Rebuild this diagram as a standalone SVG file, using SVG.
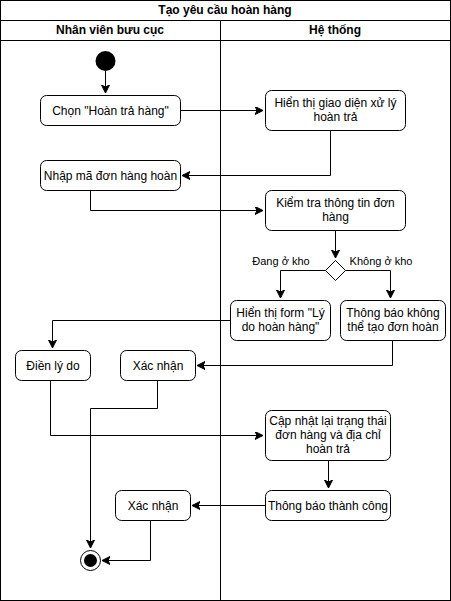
<svg xmlns="http://www.w3.org/2000/svg" width="451" height="601" viewBox="0 0 451 601">
<style>
text{font-family:"Liberation Sans",Arial,sans-serif;font-size:12px;fill:#000;text-anchor:middle}
.b{font-weight:bold}
.node{fill:#fff;stroke:#000;stroke-width:1}
.edge{fill:none;stroke:#000;stroke-width:1}
.frame{fill:#fff;stroke:#000;stroke-width:1}
</style>
<defs>
<marker id="arr" markerUnits="userSpaceOnUse" markerWidth="10" markerHeight="10" refX="8" refY="4" orient="auto">
<path d="M0,0 L8,4 L0,8 L2,4 Z" fill="#000" stroke="#000" stroke-width="1"/>
</marker>
</defs>
<rect x="0" y="0" width="451" height="601" fill="#fff"/>
<g id="pool">
<rect class="frame" x="0.5" y="0.5" width="450" height="600"/>
<line class="edge" x1="0.5" y1="20.5" x2="450.5" y2="20.5"/>
<line class="edge" x1="0.5" y1="40.5" x2="450.5" y2="40.5"/>
<line class="edge" x1="220.5" y1="20.5" x2="220.5" y2="600.5"/>
<text class="b" x="225" y="14">Tạo yêu cầu hoàn hàng</text>
<text class="b" x="110" y="34">Nhân viên bưu cục</text>
<text class="b" x="335" y="34">Hệ thống</text>
</g>
<g id="edges">
<path class="edge" d="M105.5,71 V93" marker-end="url(#arr)"/>
<path class="edge" d="M180,110.5 H263" marker-end="url(#arr)"/>
<path class="edge" d="M330.5,130 V175.5 H182" marker-end="url(#arr)"/>
<path class="edge" d="M90.5,190 V210.5 H263" marker-end="url(#arr)"/>
<path class="edge" d="M335.5,230 V258" marker-end="url(#arr)"/>
<path class="edge" d="M325.5,270.5 H280.5 V298" marker-end="url(#arr)"/>
<path class="edge" d="M345.5,270.5 H390.5 V298" marker-end="url(#arr)"/>
<path class="edge" d="M230,320.5 H52.5 V348" marker-end="url(#arr)"/>
<path class="edge" d="M392.5,340 V365.5 H197" marker-end="url(#arr)"/>
<path class="edge" d="M157.5,380 V408.5 H90.5 V548" marker-end="url(#arr)"/>
<path class="edge" d="M50.5,380 V435.5 H263" marker-end="url(#arr)"/>
<path class="edge" d="M328.5,460 V488" marker-end="url(#arr)"/>
<path class="edge" d="M265,505.5 H192" marker-end="url(#arr)"/>
<path class="edge" d="M150.5,520 V560.5 H102" marker-end="url(#arr)"/>
<text x="281" y="265" style="font-size:11px">Đang ở kho</text>
<text x="381" y="265" style="font-size:11px">Không ở kho</text>
</g>
<g id="start"><circle cx="105.5" cy="61" r="10" fill="#000"/></g>
<g id="n1"><rect class="node" x="40.5" y="95.5" width="140" height="30" rx="6"/><text x="110.5" y="114.5">Chọn "Hoàn trả hàng"</text></g>
<g id="n2"><rect class="node" x="265.5" y="90.5" width="140" height="40" rx="6"/><text x="335.5" y="107">Hiển thị giao diện xử lý</text><text x="335.5" y="121">hoàn trả</text></g>
<g id="n3"><rect class="node" x="40.5" y="160.5" width="140" height="30" rx="6"/><text x="110.5" y="179.5">Nhập mã đơn hàng hoàn</text></g>
<g id="n4"><rect class="node" x="265.5" y="190.5" width="140" height="40" rx="6"/><text x="335.5" y="207">Kiểm tra thông tin đơn</text><text x="335.5" y="221">hàng</text></g>
<g id="dec"><path class="node" d="M335.5,260.5 L345.5,270.5 L335.5,280.5 L325.5,270.5 Z"/></g>
<g id="n5"><rect class="node" x="230.5" y="300.5" width="100" height="40" rx="6"/><text x="280.5" y="317">Hiển thị form "Lý</text><text x="280.5" y="331">do hoàn hàng"</text></g>
<g id="n6"><rect class="node" x="340.5" y="300.5" width="105" height="40" rx="6"/><text x="393" y="317">Thông báo không</text><text x="393" y="331">thể tạo đơn hoàn</text></g>
<g id="n7"><rect class="node" x="15.5" y="350.5" width="75" height="30" rx="6"/><text x="53" y="369.5">Điền lý do</text></g>
<g id="n8"><rect class="node" x="120.5" y="350.5" width="75" height="30" rx="6"/><text x="158" y="369.5">Xác nhận</text></g>
<g id="n9"><rect class="node" x="265.5" y="410.5" width="125" height="50" rx="6"/><text x="328" y="425">Cập nhật lại trạng thái</text><text x="328" y="439">đơn hàng và địa chỉ</text><text x="328" y="453">hoàn trả</text></g>
<g id="n10"><rect class="node" x="265.5" y="490.5" width="125" height="30" rx="6"/><text x="328" y="509.5">Thông báo thành công</text></g>
<g id="n11"><rect class="node" x="115.5" y="490.5" width="75" height="30" rx="6"/><text x="153" y="509.5">Xác nhận</text></g>
<g id="end"><circle cx="90.5" cy="560.5" r="10" fill="#fff" stroke="#000"/><circle cx="90.5" cy="560.5" r="6.5" fill="#000"/></g>
</svg>
